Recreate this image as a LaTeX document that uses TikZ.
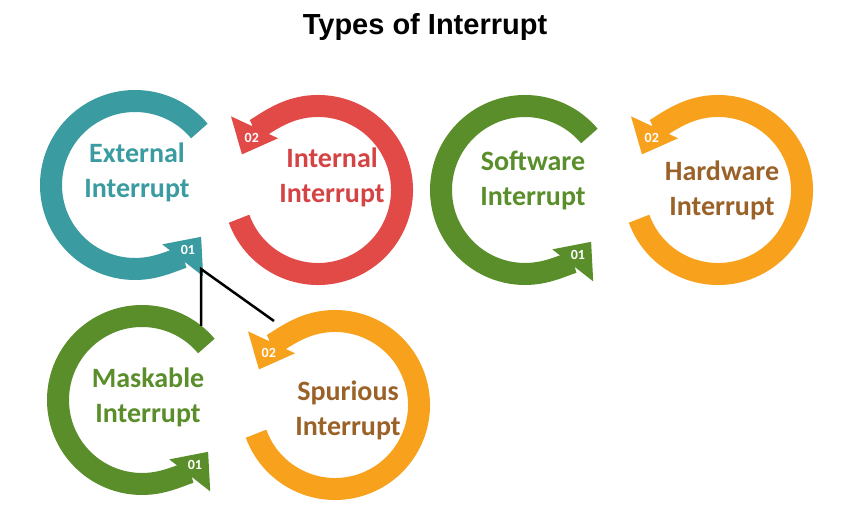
\documentclass[tikz,border=0pt]{standalone}
\usepackage{fontspec}
\setmainfont{Carlito}
\newfontfamily\titlefont{Liberation Sans}
\usetikzlibrary{arrows.meta}
\definecolor{cteal}{HTML}{3A9BA0}
\definecolor{cred}{HTML}{E24A48}
\definecolor{cgreen}{HTML}{5A8E2A}
\definecolor{corange}{HTML}{F8A11C}
\definecolor{tred}{HTML}{D44444}
\definecolor{tbrown}{HTML}{9A6228}
% #1 cx #2 cy #3 r #4 start #5 end #6 color #7 name #8 number
\newcommand{\myring}[8]{\draw[#6, line width=22pt, -{Triangle[width=50pt,length=30pt]}] ([shift={(#4:#3)}]#1,#2) arc[start angle=#4, end angle=#5, radius=#3];
\node[num] (#7) at ([shift={(#5-13:#3)}]#1,#2) {#8};}
\tikzset{lbl/.style={font=\bfseries\fontsize{28}{35}\selectfont, align=center},
num/.style={font=\bfseries\fontsize{14}{16}\selectfont, text=white},
link/.style={line width=2.5pt, black}}
\begin{document}
\begin{tikzpicture}[x=1pt,y=1pt]
\path[use as bounding box, fill=white] (0,0) rectangle (850,519);
\node[font=\titlefont\bfseries\fontsize{29}{33}\selectfont] (title) at (425,492) {Types of Interrupt};
% pair 1
\myring{318}{329}{84}{200}{515}{cred}{n2}{02}
\myring{135}{334}{84}{40}{322}{cteal}{n1}{01}
% pair 2
\myring{718}{329}{84}{200}{515}{corange}{n4}{02}
\myring{525}{329}{84}{40}{322}{cgreen}{n3}{01}
% pair 3
\myring{335}{114}{84}{200}{515}{corange}{n6}{02}
\myring{142}{119}{84}{40}{322}{cgreen}{n5}{01}
\node[lbl, text=cteal] (ext) at (137,347) {External\\Interrupt};
\node[lbl, text=tred] (int) at (332,342) {Internal\\Interrupt};
\node[lbl, text=cgreen] (sw) at (533,339) {Software\\Interrupt};
\node[lbl, text=tbrown] (hw) at (722,329) {Hardware\\Interrupt};
\node[lbl, text=cgreen] (mask) at (148,122) {Maskable\\Interrupt};
\node[lbl, text=tbrown] (spur) at (348,109) {Spurious\\Interrupt};
\coordinate (j) at (201,250);
\coordinate (ja) at (201,193);
\coordinate (jb) at (274,198);
\draw[link] (ja) -- (j) -- (jb);
\end{tikzpicture}
\end{document}
